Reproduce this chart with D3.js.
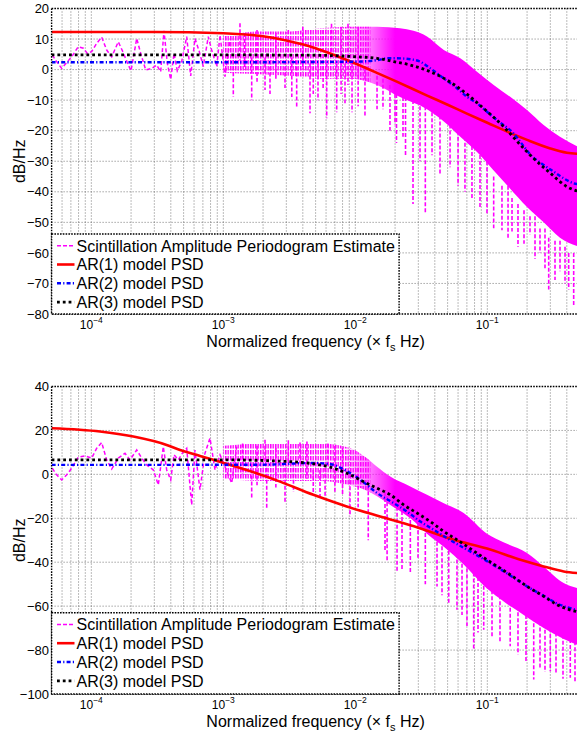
<!DOCTYPE html>
<html><head><meta charset="utf-8">
<script src="https://cdn.jsdelivr.net/npm/d3@7"></script>
<style>body{margin:0;background:#fff} svg{display:block} text{font-family:"Liberation Sans",Arial,Helvetica,sans-serif;fill:#000}</style>
</head><body><svg id="c" width="577" height="736"></svg>
<script>
// ---------- shared ----------
const xDomain = [5e-5, 0.5];
const xTickExps = [-4, -3, -2, -1];
const legendLabels = ["Scintillation Amplitude Periodogram Estimate", "AR(1) model PSD", "AR(2) model PSD", "AR(3) model PSD"];
const xLabel = "Normalized frequency";
const yLabel = "dB/Hz";

// ---------- top panel ----------
const yTicksTop = [20, 10, 0, -10, -20, -30, -40, -50, -60, -70, -80];
const ar1TopF  = [5e-5, 1e-4, 3e-4, 1e-3, 2e-3, 3e-3, 5e-3, 7e-3, 1e-2, 1.5e-2, 2e-2, 3.5e-2, 5e-2, 7e-2, 0.1, 0.15, 0.2, 0.3, 0.4, 0.5];
const ar1TopDb = [12.3, 12.3, 12.3, 11.9, 10.9, 9.5, 7.0, 4.7, 2.0, -1.3, -3.7, -8.5, -11.5, -14.4, -17.4, -20.8, -23.0, -25.8, -27.2, -27.6];
const ar2TopF  = [5e-5, 1e-3, 5e-3, 1e-2, 0.0146, 0.0174, 0.0207, 0.0261, 0.031, 0.037, 0.0468, 0.0589, 0.0701, 0.0835, 0.0994, 0.118, 0.158, 0.188, 0.2115, 0.267, 0.318, 0.379, 0.451, 0.5];
const ar2TopDb = [2.4, 2.4, 2.5, 2.6, 3.1, 3.7, 3.7, 3.4, 2.6, 0.4, -2.9, -6.1, -8.9, -11.0, -13.8, -16.5, -20.9, -25.0, -27.8, -31.2, -33.4, -35.6, -37.2, -37.6];
const ar3TopF  = [5e-5, 1e-3, 5e-3, 1e-2, 0.0146, 0.01955, 0.0261, 0.037, 0.0494, 0.0662, 0.0938, 0.133, 0.183, 0.2115, 0.30, 0.40, 0.5];
const ar3TopDb = [4.8, 4.8, 4.7, 4.2, 3.7, 2.6, 1.5, -0.7, -3.4, -7.2, -12.7, -18.7, -25.2, -28.0, -33.9, -38.3, -40.0];
const pgLowTopF  = [5.06e-5, 5.46e-5, 5.96e-5, 6.51e-5, 7.10e-5, 7.96e-5, 8.70e-5, 9.32e-5, 1.006e-4, 1.098e-4, 1.198e-4, 1.307e-4, 1.427e-4, 1.601e-4, 1.747e-4, 1.906e-4, 1.998e-4, 2.207e-4, 2.366e-4, 2.582e-4, 2.866e-4, 3.127e-4, 3.353e-4, 3.552e-4, 3.763e-4, 3.993e-4, 4.229e-4, 4.479e-4, 4.836e-4, 5.278e-4, 5.658e-4, 6.099e-4, 6.573e-4, 7.05e-4, 7.69e-4, 8.16e-4, 8.91e-4, 9.44e-4, 1.029e-3, 1.123e-3];
const pgLowTopDb = [4.8, 2.6, 0.4, 2.3, 4.2, 7.5, 7.0, 5.3, 5.9, 8.6, 10.6, 6.4, 4.2, 9.1, 5.5, 1.5, -0.4, 10.2, 5.3, -0.1, 0.4, 1.5, -0.7, 12.7, 2.1, -3.2, 5.3, -0.4, 2.6, 10.8, -2.1, 10.2, 5.9, 1.0, 10.8, 6.4, 1.0, 11.3, -2.3, 9.7];
const bandTopF  = [1.0e-3, 1.9e-3, 3.2e-3, 5.4e-3, 9.1e-3, 0.0146, 0.0218, 0.0349, 0.0468, 0.0624, 0.0835, 0.1117, 0.149, 0.1998, 0.267, 0.355, 0.5];
const bandTopHi = [11, 12.5, 12.5, 13.5, 14, 14, 13.5, 10.8, 6.4, 3.7, -0.7, -5, -8.9, -13.2, -18.1, -22, -25.5];
const bandTopLo = [-1, -1.5, -2, -3, -3, -5, -9, -13, -17, -22, -27, -33, -39, -45, -50, -55, -58];
const spikesTopF  = [1.19e-3, 1.337e-3, 1.45e-3, 1.64e-3, 1.8e-3, 2.069e-3, 2.257e-3, 2.5e-3, 2.933e-3, 3.107e-3, 3.3e-3, 3.595e-3, 4e-3, 4.536e-3, 4.8e-3, 5.214e-3, 5.7e-3, 6.07e-3, 6.6e-3, 7.225e-3, 7.8e-3, 8.35e-3, 8.8e-3, 9.44e-3, 1.05e-2, 0.01183, 0.0146, 0.0162, 0.0183, 0.01998, 0.0205, 0.02297, 0.024, 0.02735, 0.0309, 0.0339, 0.0381, 0.0438, 0.0522, 0.0600, 0.0677, 0.0765, 0.0880, 0.0994, 0.1117, 0.1291, 0.1435, 0.1538, 0.1707, 0.1896, 0.2105, 0.2297, 0.2506, 0.2734, 0.2917, 0.3256, 0.3553, 0.3877, 0.4134, 0.451];
const spikesTopHi = [5, 15.2, 12, 4, 13, 4, 3, 12, 3, 13, 4, 3, 14, 2, 3, 2, 13, 2, 15, 2, 14, 2, 15, 2, 14, 0, -2, -3, -5, -6, -6, -7, -7, -8, -10, -12, -12, -15, -18, -20, -22, -25, -26, -30, -35, -38, -38, -42, -44, -46, -48, -48, -52, -52, -55, -56, -56, -58, -60, -60];
const spikesTopLo = [-8.9, 3, 0, -10, -4, -6.7, -8, -3, -6, 4, -9, -12.1, 0, -14.3, -8, -10, -6, -15.9, 5, -14, -8, -11, -5, -14, -12, -15.4, -13, -13, -20, -18, -24, -22, -28, -44, -30, -47, -28, -34, -32, -38, -40, -42.7, -45, -47, -51.9, -52.6, -55, -53, -58, -57, -54, -62, -60, -65, -72, -68.9, -66, -70, -72, -77.6];

// ---------- bottom panel ----------
const yTicksBot = [40, 20, 0, -20, -40, -60, -80, -100];
const ar1BotF  = [5e-5, 1.164e-4, 2.08e-4, 3.72e-4, 4.70e-4, 6.66e-4, 8.40e-4, 1.50e-3, 2.69e-3, 4.81e-3, 8.61e-3, 1.54e-2, 3e-2, 5.56e-2, 9.94e-2, 0.178, 0.267, 0.379, 0.5];
const ar1BotDb = [21.0, 19.5, 17.2, 13.4, 11.1, 8.4, 6.6, 2.0, -3.3, -9.3, -14.6, -19.2, -24.3, -29.8, -33.8, -38.9, -41.9, -44.2, -45.0];
const ar2BotF  = [5e-5, 2e-3, 4.81e-3, 6.5e-3, 8.6e-3, 0.0115, 0.0146, 0.01953, 0.0246, 0.0311, 0.0392, 0.0494, 0.0994, 0.149, 0.1998, 0.267, 0.3372, 0.47, 0.5];
const ar2BotDb = [4.3, 4.4, 5.2, 4.6, 1.5, -3.5, -8.5, -13.1, -16.9, -21.5, -25.2, -29.0, -39.5, -46.0, -51.0, -55.3, -58.8, -61.6, -62.0];
const ar3BotF  = [5e-5, 1e-3, 2.69e-3, 4.81e-3, 6.43e-3, 8.61e-3, 0.0115, 0.0146, 0.0184, 0.02325, 0.02932, 0.037, 0.0468, 0.0589, 0.0994, 0.149, 0.1998, 0.267, 0.3372, 0.47, 0.5];
const ar3BotDb = [6.6, 6.6, 6.0, 4.8, 3.3, 0.5, -3.3, -6.3, -9.3, -13.9, -17.6, -21.5, -26.0, -29.8, -38.9, -45.7, -51.0, -55.5, -59.3, -62.4, -62.7];
const pgLowBotF  = [5.06e-5, 5.46e-5, 5.96e-5, 6.51e-5, 7.10e-5, 7.96e-5, 8.95e-5, 1.006e-4, 1.098e-4, 1.198e-4, 1.307e-4, 1.427e-4, 1.601e-4, 1.799e-4, 1.963e-4, 2.207e-4, 2.408e-4, 2.627e-4, 2.948e-4, 3.216e-4, 3.509e-4, 3.724e-4, 3.993e-4, 4.229e-4, 4.557e-4, 4.921e-4, 5.278e-4, 5.757e-4, 6.099e-4, 6.654e-4, 7.26e-4, 7.925e-4, 8.65e-4, 9.44e-4, 1.029e-3, 1.157e-3, 1.263e-3];
const pgLowBotDb = [2.8, -0.2, -2.5, -0.2, 2.8, 7.8, 8.4, 7.4, 11.9, 14.5, 6.6, 2.4, 7.4, 9.6, 6.6, 11.1, 7.4, 4.3, 2.0, -4.8, 12.6, 2.0, -2.5, 8.9, 6.6, 9.9, 11.9, -13.9, 11.1, -7.0, 9.6, 16.5, 2.0, 8.9, 3.5, -4.0, 12.6];
const bandBotF  = [1.0e-3, 1.9e-3, 3.2e-3, 5.4e-3, 9.1e-3, 0.0118, 0.0146, 0.0184, 0.0261, 0.0349, 0.0468, 0.0662, 0.0994, 0.1338, 0.1998, 0.267, 0.379, 0.5];
const bandBotHi = [13, 14, 14, 14, 12, 8, 3.5, -1, -5.5, -9.3, -13.1, -17.6, -27, -31, -35.8, -41.9, -49.5, -52];
const bandBotLo = [-2, -3, -3, -3, -5, -7, -10, -14, -20, -27, -33, -41, -52, -58, -65, -70, -75, -78];
const spikesBotF  = [1.4e-3, 1.64e-3, 1.8e-3, 2.069e-3, 2.131e-3, 2.5e-3, 2.933e-3, 3.107e-3, 3.4e-3, 3.81e-3, 4.3e-3, 4.8e-3, 5.40e-3, 5.9e-3, 6.2e-3, 7e-3, 8e-3, 9.11e-3, 1.05e-2, 0.01253, 0.01678, 0.0174, 0.0207, 0.02257, 0.0261, 0.02984, 0.0339, 0.04157, 0.04535, 0.0510, 0.0589, 0.0643, 0.0701, 0.0788, 0.085, 0.0939, 0.1085, 0.1247, 0.149, 0.1707, 0.1963, 0.2246, 0.2506, 0.2734, 0.2999, 0.3313, 0.3743, 0.425, 0.4615];
const spikesBotHi = [14, 5, 13, 15.7, 3, 12, 3, 15.5, 3, 14.5, 15, 2, 2, 3, 14, 13, 12, 0, 3, -5, -8, -10, -12, -14, -18, -20, -24, -28, -30, -32, -36, -38, -40, -42, -44, -48, -50, -55, -58, -60, -64, -65, -67, -68, -70, -72, -73, -75, -76];
const spikesBotLo = [0, -10.8, -5, 5, -15.4, -6, -13.1, 5, -8, 5, -2, -9, -11.6, -10, 4, -8, -9, -19.2, -15, -30, -35, -40, -44, -44, -45, -38, -50, -51, -55, -58.5, -61.6, -64, -69, -79.8, -72, -70.7, -74, -76, -78.3, -82, -85, -93.4, -88, -90, -89.6, -91, -93, -92.6, -95];

// ---------- drawing ----------
const svg = d3.select("#c");
const defs = svg.append("defs");
const MAG = "#ff00ff";
defs.append("pattern").attr("id", "pgtex").attr("patternUnits", "userSpaceOnUse")
  .attr("width", 2.5).attr("height", 6)
  .append("rect").attr("width", 1.5).attr("height", 4.5).attr("fill", MAG);

const x = d3.scaleLog().domain(xDomain).range([51.6, 579.6]);
const minus = v => (v < 0 ? "\u2212" + Math.abs(v) : String(v));

function panel(key, top, bottom, yTicks, ar1F, ar1, ar2F, ar2, ar3F, ar3, lowF, lowDb, bF, bHi, bLo, sF, sHi, sLo, legendTop) {
  const y = d3.scaleLinear().domain([yTicks[yTicks.length - 1], yTicks[0]]).range([bottom, top]);
  const [x0, x1] = x.range();
  const g = svg.append("g");
  defs.append("clipPath").attr("id", "clip" + key).append("rect")
    .attr("x", x0).attr("y", top).attr("width", x1 - x0).attr("height", bottom - top);
  defs.append("clipPath").attr("id", "clipMid" + key).append("rect")
    .attr("x", x0).attr("y", top).attr("width", x(0.013) - x0).attr("height", bottom - top);
  defs.append("clipPath").attr("id", "clipRight" + key).append("rect")
    .attr("x", x(0.008)).attr("y", top).attr("width", x1 - x(0.008)).attr("height", bottom - top);
  const grad = defs.append("linearGradient").attr("id", "fade" + key).attr("gradientUnits", "userSpaceOnUse")
    .attr("x1", x(0.008)).attr("x2", x(0.02)).attr("y1", 0).attr("y2", 0);
  grad.append("stop").attr("offset", 0).attr("stop-color", MAG).attr("stop-opacity", 0);
  grad.append("stop").attr("offset", 1).attr("stop-color", MAG).attr("stop-opacity", 1);

  // grid
  const grid = g.append("g").attr("stroke", "#000").attr("stroke-width", 0.7)
    .attr("stroke-dasharray", "1,2").attr("opacity", 0.75);
  const minor = [];
  for (let d = -5; d <= -1; d++) for (let m = 1; m <= 9; m++) {
    const f = m * Math.pow(10, d);
    if (f > xDomain[0] * 1.001 && f < xDomain[1] * 0.999) minor.push(f);
  }
  grid.selectAll("line.v").data(minor).join("line")
    .attr("x1", d => x(d)).attr("x2", d => x(d)).attr("y1", top).attr("y2", bottom);
  grid.selectAll("line.h").data(yTicks.slice(1, -1)).join("line")
    .attr("x1", x0).attr("x2", x1).attr("y1", d => y(d)).attr("y2", d => y(d));

  const plot = g.append("g").attr("clip-path", `url(#clip${key})`);
  const band = bF.map((f, i) => ({ f, hi: bHi[i], lo: bLo[i] }));
  const area = d3.area().x(d => x(d.f)).y0(d => y(d.lo)).y1(d => y(d.hi)).curve(d3.curveMonotoneX);
  plot.append("path").attr("clip-path", `url(#clipMid${key})`).attr("d", area(band)).attr("fill", "url(#pgtex)");
  plot.append("path").attr("clip-path", `url(#clipRight${key})`).attr("d", area(band)).attr("fill", `url(#fade${key})`);
  plot.append("g").selectAll("line").data(sF.map((f, i) => ({ f, hi: sHi[i], lo: sLo[i] }))).join("line")
    .attr("x1", d => x(d.f)).attr("x2", d => x(d.f)).attr("y1", d => y(d.hi)).attr("y2", d => y(d.lo))
    .attr("stroke", MAG).attr("stroke-width", 1.6).attr("stroke-dasharray", "4,2");
  const lineL = d3.line().x(d => x(d[0])).y(d => y(d[1]));
  plot.append("path").attr("d", lineL(lowF.map((f, i) => [f, lowDb[i]])))
    .attr("fill", "none").attr("stroke", MAG).attr("stroke-width", 1.5).attr("stroke-dasharray", "4,2.5");
  const lineS = d3.line().x(d => x(d[0])).y(d => y(d[1])).curve(d3.curveMonotoneX);
  plot.append("path").attr("d", lineS(ar1F.map((f, i) => [f, ar1[i]])))
    .attr("fill", "none").attr("stroke", "#ff0000").attr("stroke-width", 2.6);
  plot.append("path").attr("d", lineS(ar2F.map((f, i) => [f, ar2[i]])))
    .attr("fill", "none").attr("stroke", "#0000ff").attr("stroke-width", 2.4).attr("stroke-dasharray", "4,2.2,1.2,2.2");
  plot.append("path").attr("d", lineS(ar3F.map((f, i) => [f, ar3[i]])))
    .attr("fill", "none").attr("stroke", "#000").attr("stroke-width", 2.8).attr("stroke-dasharray", "2.8,3");

  const box = g.append("g").attr("stroke", "#000").attr("stroke-width", 1.4).attr("stroke-dasharray", "1.6,1.2");
  box.append("line").attr("x1", x0).attr("x2", x1).attr("y1", top).attr("y2", top);
  box.append("line").attr("x1", x0).attr("x2", x1).attr("y1", bottom).attr("y2", bottom);
  box.append("line").attr("x1", x0).attr("x2", x0).attr("y1", top).attr("y2", bottom);

  g.append("g").selectAll("text").data(yTicks).join("text")
    .attr("x", x0 - 2.5).attr("y", d => y(d) + 4.6).attr("text-anchor", "end")
    .attr("font-size", 13).text(d => minus(d));
  const xt = g.append("g").selectAll("text").data(xTickExps).join("text")
    .attr("x", d => x(Math.pow(10, d))).attr("y", bottom + 15).attr("text-anchor", "middle")
    .attr("font-size", 12);
  xt.append("tspan").text("10");
  xt.append("tspan").attr("dy", -6).attr("font-size", 8.5).text(d => minus(d));

  const xl = g.append("text").attr("x", (x0 + x1) / 2).attr("y", bottom + 33)
    .attr("text-anchor", "middle").attr("font-size", 16);
  xl.append("tspan").text(xLabel + " (\u00d7 f");
  xl.append("tspan").attr("dy", 4).attr("font-size", 11).text("s");
  xl.append("tspan").attr("dy", -4).text(" Hz)");
  g.append("text").attr("transform", `translate(25,${(top + bottom) / 2}) rotate(-90)`)
    .attr("text-anchor", "middle").attr("font-size", 16).text(yLabel);

  const lg = g.append("g");
  lg.append("rect").attr("x", x0).attr("y", legendTop).attr("width", 347.5).attr("height", bottom - legendTop)
    .attr("fill", "#fff").attr("stroke", "#000").attr("stroke-width", 1.4).attr("stroke-dasharray", "1.6,1.2");
  const styles = [
    { c: MAG, w: 1.5, d: "4,2" },
    { c: "#ff0000", w: 2.6, d: null },
    { c: "#0000ff", w: 2.4, d: "4,2.2,1.2,2.2" },
    { c: "#000", w: 2.8, d: "2.8,3" }
  ];
  legendLabels.forEach((lab, i) => {
    const ry = legendTop + 11.7 + i * 18.8;
    const ln = lg.append("line").attr("x1", 57).attr("x2", 74.5).attr("y1", ry).attr("y2", ry)
      .attr("stroke", styles[i].c).attr("stroke-width", styles[i].w);
    if (styles[i].d) ln.attr("stroke-dasharray", styles[i].d);
    lg.append("text").attr("x", 76.5).attr("y", ry + 5.8).attr("font-size", 16).text(lab);
  });
}

panel("T", 8.5, 314, yTicksTop, ar1TopF, ar1TopDb, ar2TopF, ar2TopDb, ar3TopF, ar3TopDb,
  pgLowTopF, pgLowTopDb, bandTopF, bandTopHi, bandTopLo, spikesTopF, spikesTopHi, spikesTopLo, 234);
panel("B", 386.5, 694, yTicksBot, ar1BotF, ar1BotDb, ar2BotF, ar2BotDb, ar3BotF, ar3BotDb,
  pgLowBotF, pgLowBotDb, bandBotF, bandBotHi, bandBotLo, spikesBotF, spikesBotHi, spikesBotLo, 612.7);
</script></body></html>
